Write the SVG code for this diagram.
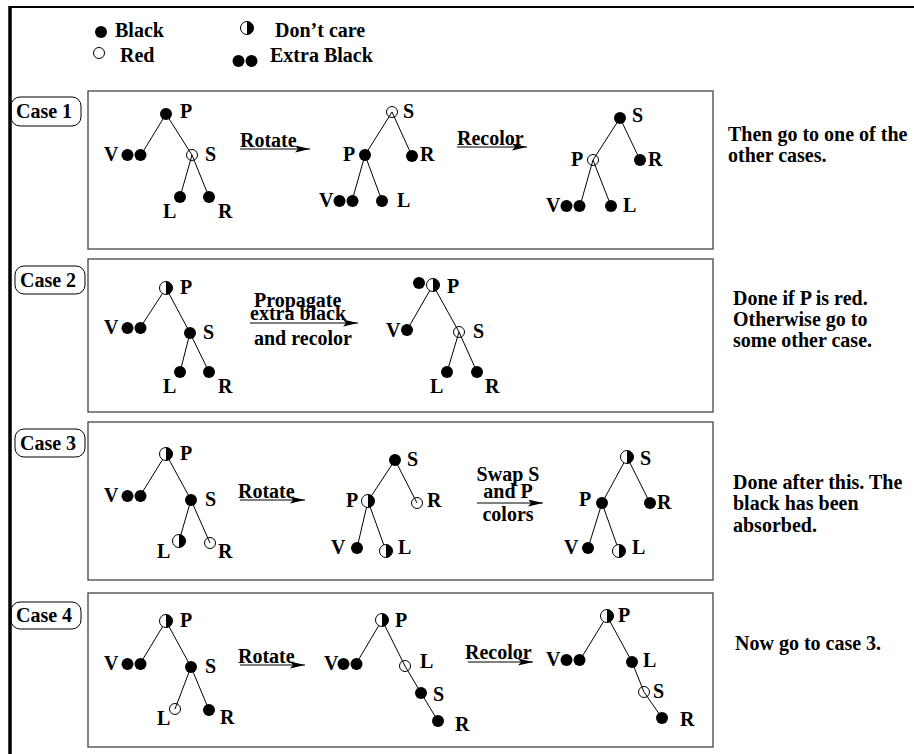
<svg xmlns="http://www.w3.org/2000/svg" xmlns:xlink="http://www.w3.org/1999/xlink" width="914" height="754" viewBox="0 0 914 754">
<style>
text{font-family:"Liberation Serif","Times New Roman",serif;font-weight:bold;font-size:20px;fill:#000}
.mid{text-anchor:middle}
.box{fill:none;stroke:#444;stroke-width:1.3}
.lbl{fill:none;stroke:#000;stroke-width:1}
.e{stroke:#000;stroke-width:1;fill:none}
.ar{stroke:#000;stroke-width:1.2;fill:none;marker-end:url(#ah)}
</style>
<defs>
<marker id="ah" viewBox="0 0 15 7" refX="15" refY="3.5" markerWidth="15" markerHeight="7" markerUnits="userSpaceOnUse" orient="auto"><path d="M0,0 L15,3.5 L0,7 L3,3.5 Z" fill="#000"/></marker>
<circle id="b" r="6" fill="#000"/>
<circle id="r" r="5.5" fill="none" stroke="#000" stroke-width="1"/>
<g id="h"><circle r="6.5" fill="#fff" stroke="#000" stroke-width="1"/><path d="M0,-6.5 A6.5,6.5 0 0 1 0,6.5 Z" fill="#000"/></g>
<g id="bb"><circle cx="-6.5" r="6" fill="#000"/><circle cx="6.5" r="6" fill="#000"/></g>
</defs>
<rect width="914" height="754" fill="#fff"/>
<g id="frame"><line x1="10" y1="7" x2="914" y2="7" stroke="#000" stroke-width="2"/><line x1="10" y1="6" x2="10" y2="754" stroke="#000" stroke-width="3.5"/></g>

<g id="legend">
<use href="#b" x="101" y="32"/><text x="115" y="37">Black</text>
<use href="#h" x="247" y="28"/><text x="275" y="37">Don’t care</text>
<use href="#r" x="99" y="53"/><text x="120" y="62">Red</text>
<use href="#bb" x="245" y="61"/><text x="270" y="62">Extra Black</text>
</g>

<g id="connectors">
<!-- case 1 -->
<path class="e" d="M166,114 L141,155 M166,114 L192,155 L180,197 M192,155 L209,197"/>
<path class="e" d="M392,112 L365,155 L352,201 M392,112 L412,156 M365,155 L382,201"/>
<path class="e" d="M620,118 L593,160 L580,206 M620,118 L640,160 M593,160 L611,206"/>
<line class="ar" x1="240" y1="149" x2="310" y2="149"/>
<line class="ar" x1="457" y1="147" x2="527" y2="147"/>
<!-- case 2 -->
<path class="e" d="M166,288 L140,328 M166,288 L190,333 L180,372 M190,333 L209,372"/>
<path class="e" d="M433,285 L407,330 M433,285 L459,332 L447,372 M459,332 L477,372"/>
<line class="ar" x1="250" y1="323" x2="358" y2="323"/>
<!-- case 3 -->
<path class="e" d="M166,454 L140,496 M166,454 L191,500 L179,541 M191,500 L210,543"/>
<path class="e" d="M395,460 L368,501 L357,548 M395,460 L417,503 M368,501 L386,551"/>
<path class="e" d="M627,457 L602,503 L588,548 M627,457 L650,503 M602,503 L619,551"/>
<line class="ar" x1="240" y1="500" x2="305" y2="500"/>
<line class="ar" x1="477" y1="503" x2="543" y2="503"/>
<!-- case 4 -->
<path class="e" d="M166,621 L140,664 M166,621 L191,667 L175,709 M191,667 L209,710"/>
<path class="e" d="M382,620 L356,664 M382,620 L405,666 L421,693 L438,721"/>
<path class="e" d="M607,616 L580,660 M607,616 L632,662 L644,692 L662,718"/>
<line class="ar" x1="240" y1="665" x2="305" y2="665"/>
<line class="ar" x1="468" y1="662" x2="533" y2="662"/>
<!-- edge labels -->
<text x="240" y="147">Rotate</text>
<text x="457" y="145">Recolor</text>
<text x="254" y="307" font-size="19">Propagate</text>
<text x="250" y="320" font-size="19">extra black</text>
<text x="254" y="345" font-size="19">and recolor</text>
<text x="238" y="498">Rotate</text>
<text class="mid" x="508" y="481" font-size="19">Swap S</text>
<text class="mid" x="508" y="498" font-size="19">and P</text>
<text class="mid" x="508" y="521" font-size="19">colors</text>
<text x="238" y="663">Rotate</text>
<text x="465" y="659">Recolor</text>
</g>

<g id="case1">
<rect class="box" x="88" y="91" width="625" height="158"/>
<rect class="lbl" x="11" y="97" width="70" height="29" rx="9"/><text x="16" y="118">Case 1</text>
<g id="c1t1">
<use href="#b" x="166" y="114"/><text x="180" y="118">P</text>
<use href="#bb" x="134" y="155"/><text x="104" y="161">V</text>
<use href="#r" x="192" y="155"/><text x="205" y="161">S</text>
<use href="#b" x="180" y="197"/><text x="163" y="218">L</text>
<use href="#b" x="209" y="197"/><text x="218" y="218">R</text>
</g>
<g id="c1t2">
<use href="#r" x="392" y="112"/><text x="403" y="118">S</text>
<use href="#b" x="365" y="155"/><text x="343" y="161">P</text>
<use href="#b" x="412" y="156"/><text x="420" y="161">R</text>
<use href="#bb" x="346" y="201"/><text x="319" y="207">V</text>
<use href="#b" x="382" y="201"/><text x="397" y="207">L</text>
</g>
<g id="c1t3">
<use href="#b" x="620" y="118"/><text x="632" y="122">S</text>
<use href="#r" x="593" y="160"/><text x="571" y="166">P</text>
<use href="#b" x="640" y="160"/><text x="648" y="166">R</text>
<use href="#bb" x="573" y="206"/><text x="546" y="212">V</text>
<use href="#b" x="611" y="206"/><text x="623" y="212">L</text>
</g>
<text x="728" y="141">Then go to one of the</text>
<text x="728" y="162">other cases.</text>
</g>

<g id="case2">
<rect class="box" x="88" y="259" width="625" height="153"/>
<rect class="lbl" x="15" y="266" width="70" height="28" rx="9"/><text x="20" y="287">Case 2</text>
<g id="c2t1">
<use href="#h" x="166" y="288"/><text x="180" y="294">P</text>
<use href="#bb" x="134" y="328"/><text x="104" y="334">V</text>
<use href="#b" x="190" y="333"/><text x="203" y="339">S</text>
<use href="#b" x="180" y="372"/><text x="163" y="393">L</text>
<use href="#b" x="209" y="372"/><text x="218" y="393">R</text>
</g>
<g id="c2t2">
<use href="#b" x="419" y="283"/><use href="#h" x="433" y="285"/><text x="447" y="293">P</text>
<use href="#b" x="407" y="330"/><text x="386" y="337">V</text>
<use href="#r" x="459" y="332"/><text x="473" y="338">S</text>
<use href="#b" x="447" y="372"/><text x="430" y="393">L</text>
<use href="#b" x="477" y="372"/><text x="485" y="393">R</text>
</g>
<text x="733" y="305">Done if P is red.</text>
<text x="733" y="326">Otherwise go to</text>
<text x="733" y="347">some other case.</text>
</g>

<g id="case3">
<rect class="box" x="88" y="422" width="625" height="158"/>
<rect class="lbl" x="15" y="429" width="70" height="28" rx="9"/><text x="20" y="450">Case 3</text>
<g id="c3t1">
<use href="#h" x="166" y="454"/><text x="180" y="460">P</text>
<use href="#bb" x="134" y="496"/><text x="104" y="502">V</text>
<use href="#b" x="191" y="500"/><text x="205" y="506">S</text>
<use href="#h" x="179" y="541"/><text x="157" y="558">L</text>
<use href="#r" x="210" y="543"/><text x="218" y="558">R</text>
</g>
<g id="c3t2">
<use href="#b" x="395" y="460"/><text x="407" y="466">S</text>
<use href="#h" x="368" y="501"/><text x="346" y="507">P</text>
<use href="#r" x="417" y="503"/><text x="427" y="507">R</text>
<use href="#b" x="357" y="548"/><text x="331" y="554">V</text>
<use href="#h" x="386" y="551"/><text x="398" y="554">L</text>
</g>
<g id="c3t3">
<use href="#h" x="627" y="457"/><text x="640" y="465">S</text>
<use href="#b" x="602" y="503"/><text x="579" y="506">P</text>
<use href="#b" x="650" y="503"/><text x="657" y="509">R</text>
<use href="#b" x="588" y="548"/><text x="564" y="554">V</text>
<use href="#h" x="619" y="551"/><text x="632" y="554">L</text>
</g>
<text x="733" y="489">Done after this. The</text>
<text x="733" y="510">black has been</text>
<text x="733" y="532">absorbed.</text>
</g>

<g id="case4">
<rect class="box" x="88" y="593" width="625" height="154"/>
<rect class="lbl" x="11" y="602" width="70" height="27" rx="9"/><text x="16" y="622">Case 4</text>
<g id="c4t1">
<use href="#h" x="166" y="621"/><text x="180" y="627">P</text>
<use href="#bb" x="134" y="664"/><text x="104" y="670">V</text>
<use href="#b" x="191" y="667"/><text x="205" y="673">S</text>
<use href="#r" x="175" y="709"/><text x="157" y="725">L</text>
<use href="#b" x="209" y="710"/><text x="220" y="724">R</text>
</g>
<g id="c4t2">
<use href="#h" x="382" y="620"/><text x="395" y="627">P</text>
<use href="#bb" x="350" y="664"/><text x="324" y="670">V</text>
<use href="#r" x="405" y="666"/><text x="420" y="668">L</text>
<use href="#b" x="421" y="693"/><text x="433" y="701">S</text>
<use href="#b" x="438" y="721"/><text x="455" y="731">R</text>
</g>
<g id="c4t3">
<use href="#h" x="607" y="616"/><text x="618" y="622">P</text>
<use href="#bb" x="573" y="660"/><text x="546" y="666">V</text>
<use href="#b" x="632" y="662"/><text x="643" y="667">L</text>
<use href="#r" x="644" y="692"/><text x="653" y="698">S</text>
<use href="#b" x="662" y="718"/><text x="680" y="726">R</text>
</g>
<text x="735" y="650">Now go to case 3.</text>
</g>
</svg>
